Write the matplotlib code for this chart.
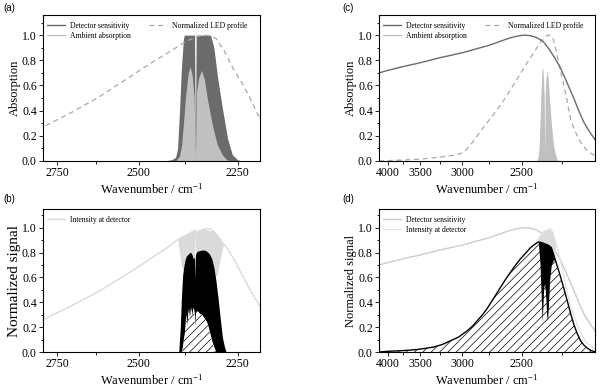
import numpy as np
import matplotlib
matplotlib.use('Agg')
import matplotlib.pyplot as plt
from matplotlib.lines import Line2D
from matplotlib.ticker import FixedLocator, MultipleLocator, NullFormatter

plt.rcParams['font.family'] = ['Liberation Serif', 'DejaVu Serif']
plt.rcParams['mathtext.default'] = 'regular'
plt.rcParams['hatch.linewidth'] = 0.5

# LED emission profile (wavenumber cm-1, normalised)
led_nu = [4170, 4000, 3750, 3500, 3250, 3100, 3050, 3000, 2975, 2950, 2900, 2850, 2800,
          2700, 2615, 2540, 2470, 2420, 2373, 2345, 2325, 2310, 2299, 2280, 2261, 2240,
          2222, 2205, 2200, 2180, 2164, 2140, 2112, 2075]
led = [0.0, 0.003, 0.008, 0.015, 0.03, 0.045, 0.052, 0.065, 0.08, 0.1, 0.15, 0.21, 0.27,
       0.39, 0.51, 0.64, 0.77, 0.86, 0.95, 0.99, 1.0, 0.99, 0.97, 0.87, 0.74, 0.62,
       0.50, 0.37, 0.33, 0.25, 0.2, 0.13, 0.08, 0.04]

# detector sensitivity
det_nu = [4170, 4000, 3750, 3500, 3250, 3000, 2850, 2750, 2650, 2580, 2520, 2480, 2440,
          2400, 2360, 2324, 2290, 2260, 2237, 2210, 2183, 2157, 2131, 2105, 2075]
det = [0.70, 0.72, 0.75, 0.78, 0.82, 0.86, 0.895, 0.92, 0.955, 0.98, 0.995, 1.0, 0.995,
       0.98, 0.95, 0.89, 0.82, 0.75, 0.68, 0.59, 0.50, 0.40, 0.31, 0.24, 0.17]

# CO2 band envelope, high concentration (dark) and ambient (light)
dark_nu = [2430, 2410, 2400, 2395, 2390, 2385, 2380, 2378, 2352, 2350, 2348, 2313, 2305,
           2297, 2285, 2273, 2262, 2250, 2240]
dark = [0.0, 0.01, 0.03, 0.1, 0.4, 0.75, 0.97, 1.0, 1.0, 0.04, 1.0, 1.0, 0.9,
        0.68, 0.42, 0.18, 0.05, 0.01, 0.0]

amb_nu = [2400, 2390, 2385, 2380, 2375, 2368, 2363, 2358, 2353, 2350, 2347, 2342, 2335,
          2328, 2321, 2309, 2297, 2285, 2275, 2265]
amb = [0.0, 0.04, 0.12, 0.3, 0.5, 0.7, 0.75, 0.68, 0.5, 0.04, 0.55, 0.66, 0.72,
       0.65, 0.5, 0.29, 0.13, 0.05, 0.01, 0.0]

weak_nu = [3880, 3850, 3820, 3790, 3760]
weak = [0.0, 0.015, 0.005, 0.012, 0.0]

# intensity at detector
int_nu = [4170, 3800, 3500, 3200, 3000, 2900, 2800, 2720, 2615, 2514, 2422, 2392,
          2383, 2379, 2375, 2362, 2355, 2351, 2347, 2340, 2328, 2313, 2305, 2297,
          2285, 2277, 2257, 2222, 2200, 2160, 2120, 2075]
inten = [0.0, 0.005, 0.01, 0.03, 0.06, 0.12, 0.26, 0.35, 0.49, 0.66, 0.84, 0.91,
         0.925, 0.93, 0.935, 0.96, 0.975, 0.98, 0.96, 0.975, 0.99, 0.99, 0.97, 0.94,
         0.88, 0.85, 0.74, 0.50, 0.37, 0.2, 0.08, 0.02]

# light grey band of transmitted lines
gb_nu = [2395, 2390, 2386, 2380, 2370, 2353, 2351, 2349, 2330, 2305, 2297, 2290, 2283, 2280]
gb_top = [0.91, 0.92, 0.925, 0.935, 0.95, 0.975, 0.98, 0.965, 0.99, 0.97, 0.94, 0.9, 0.87, 0.865]
gb_low = [0.91, 0.8, 0.7, 0.65, 0.6, 0.6, 0.98, 0.6, 0.6, 0.6, 0.62, 0.75, 0.86, 0.865]

# (b) signal in band: black top and lower (hatched) envelope
b_nu = [2392, 2388, 2385, 2382, 2379, 2376, 2373, 2370, 2367, 2364, 2361, 2358, 2355,
        2352, 2351, 2350, 2348, 2345, 2340, 2334, 2328, 2322, 2316, 2310, 2305, 2300,
        2295, 2290, 2285, 2280, 2276]
b_top = [0.0, 0.2, 0.45, 0.62, 0.69, 0.74, 0.77, 0.78, 0.79, 0.80, 0.80, 0.78, 0.75,
         0.76, 0.58, 0.78, 0.80, 0.81, 0.815, 0.82, 0.82, 0.81, 0.79, 0.75, 0.68, 0.57,
         0.43, 0.27, 0.12, 0.04, 0.0]
b_low = [0.0, 0.0, 0.0, 0.03, 0.10, 0.16, 0.30, 0.20, 0.35, 0.25, 0.36, 0.28, 0.36,
         0.30, 0.19, 0.22, 0.32, 0.33, 0.31, 0.30, 0.27, 0.24, 0.17, 0.09, 0.04, 0.0,
         0.0, 0.0, 0.0, 0.0, 0.0]

# (d) integrated signal outline and band
sig_nu = [4170, 4000, 3800, 3650, 3541, 3420, 3322, 3220, 3127, 3040, 2954, 2900, 2859,
          2810, 2770, 2710, 2660, 2610, 2558, 2510, 2463, 2440, 2420, 2390, 2370, 2350,
          2330, 2310, 2300, 2284, 2270, 2255, 2237, 2218, 2200, 2182, 2165, 2147, 2130,
          2112, 2095, 2080, 2075]
sig = [0.0, 0.006, 0.01, 0.015, 0.02, 0.03, 0.04, 0.06, 0.09, 0.12, 0.17, 0.21, 0.25,
       0.30, 0.35, 0.44, 0.52, 0.60, 0.68, 0.75, 0.81, 0.84, 0.86, 0.885, 0.88, 0.87,
       0.86, 0.84, 0.80, 0.73, 0.67, 0.60, 0.51, 0.41, 0.31, 0.22, 0.15, 0.09, 0.055,
       0.03, 0.012, 0.005, 0.0]
d_nu = [2390, 2380, 2372, 2366, 2362, 2356, 2350, 2344, 2338, 2333, 2328, 2320, 2310,
        2298, 2288, 2280]
d_top = [0.885, 0.88, 0.88, 0.88, 0.88, 0.875, 0.87, 0.87, 0.865, 0.86, 0.855, 0.85,
         0.84, 0.79, 0.75, 0.72]
d_low = [0.88, 0.72, 0.45, 0.24, 0.35, 0.52, 0.55, 0.45, 0.3, 0.25, 0.35, 0.58, 0.7,
         0.74, 0.74, 0.72]

DARK = '#6b6b6b'
LIGHT = '#c0c0c0'
LEDC = '#a8a8a8'
INTC = '#dadada'


def to_um(x):
    # axis is linear in wavelength; minus sign keeps the mapping increasing
    x = np.asarray(x, dtype=float)
    with np.errstate(divide='ignore', invalid='ignore'):
        return -1e4 / x


def style(ax, xlim, ylim, major, minor, ylabel, ylsize):
    ax.set_xscale('function', functions=(to_um, to_um))
    ax.set_xlim(*xlim)
    ax.set_ylim(*ylim)
    ax.xaxis.set_major_locator(FixedLocator(major))
    ax.xaxis.set_minor_locator(FixedLocator(minor))
    ax.xaxis.set_minor_formatter(NullFormatter())
    ax.yaxis.set_major_locator(MultipleLocator(0.2))
    ax.yaxis.set_minor_locator(MultipleLocator(0.1))
    ax.yaxis.set_major_formatter(plt.FormatStrFormatter('%.1f'))
    ax.tick_params(which='both', direction='out', width=0.6, labelsize=8.5, pad=1.5)
    ax.tick_params(which='major', length=3)
    ax.tick_params(which='minor', length=1.8)
    for s in ax.spines.values():
        s.set_linewidth(0.8)
    ax.set_xlabel('Wavenumber / cm$^{-1}$', fontsize=9, labelpad=2)
    ax.set_ylabel(ylabel, fontsize=ylsize, labelpad=1)


fig = plt.figure(figsize=(6, 3.9), dpi=100)
ax_a = fig.add_axes([0.0717, 0.5872, 0.3617, 0.3744])
ax_b = fig.add_axes([0.0717, 0.0974, 0.3617, 0.3667])
ax_c = fig.add_axes([0.6317, 0.5872, 0.36, 0.3744])
ax_d = fig.add_axes([0.6317, 0.0974, 0.36, 0.3667])

leg_kw = dict(loc='upper left', bbox_to_anchor=(0.0, 0.98), frameon=False, fontsize=5.5,
              handlelength=2.4, handletextpad=0.6, columnspacing=2.4, labelspacing=0.3,
              borderpad=0.2, borderaxespad=0.3)
h_det = Line2D([], [], color=DARK, lw=1)
h_amb = Line2D([], [], color=LIGHT, lw=1)
h_led = Line2D([], [], color=LEDC, lw=0.9, ls=(0, (4, 3)))
labels_ac = ['Detector sensitivity', 'Ambient absorption', 'Normalized LED profile']

# (a)
ax_a.fill_between(dark_nu, 0, dark, color=DARK, lw=0)
ax_a.fill_between(amb_nu, 0, amb, color=LIGHT, lw=0)
ax_a.plot(led_nu, led, color=LEDC, lw=0.9, ls=(0, (4, 3)))
style(ax_a, (2800, 2200), (0, 1.16), [2750, 2500, 2250], [2625, 2375], 'Absorption', 9)
ax_a.legend([h_det, h_amb, h_led], labels_ac, ncol=2, **leg_kw)

# (b)
ax_b.plot(int_nu, inten, color=INTC, lw=1)
ax_b.fill_between(gb_nu, gb_low, gb_top, color=INTC, lw=0)
ax_b.fill_between(b_nu, b_low, b_top, color='black', lw=0)
ax_b.fill_between(b_nu, 0, b_low, facecolor='white', edgecolor='black', hatch='////', lw=0)
style(ax_b, (2800, 2200), (0, 1.15), [2750, 2500, 2250], [2625, 2375], 'Normalized signal', 11)
ax_b.legend([Line2D([], [], color=INTC, lw=1)], ['Intensity at detector'], **leg_kw)

# (c)
ax_c.fill_between(amb_nu, 0, amb, color=LIGHT, lw=0)
ax_c.fill_between(weak_nu, 0, weak, color=LIGHT, lw=0)
ax_c.plot(led_nu, led, color=LEDC, lw=0.9, ls=(0, (4, 3)))
ax_c.plot(det_nu, det, color=DARK, lw=1)
style(ax_c, (4170, 2075), (0, 1.16), [4000, 3500, 3000, 2500], [3750, 3250, 2750, 2250],
      'Absorption', 9)
ax_c.legend([h_det, h_amb, h_led], labels_ac, ncol=2, **leg_kw)

# (d)
ax_d.plot(det_nu, det, color='#cccccc', lw=1, zorder=1)
ax_d.plot(int_nu, inten, color='#e4e4e4', lw=1, zorder=1)
ax_d.fill_between(gb_nu, gb_low, gb_top, color='#dcdcdc', lw=0, zorder=1)
ax_d.fill_between(sig_nu, 0, sig, facecolor='white', edgecolor='black', hatch='////',
                  lw=0, zorder=2)
ax_d.fill_between(d_nu, d_low, d_top, color='black', lw=0, zorder=3)
ax_d.plot(sig_nu, sig, color='black', lw=1, zorder=4)
style(ax_d, (4170, 2075), (0, 1.15), [4000, 3500, 3000, 2500], [3750, 3250, 2750, 2250],
      'Normalized signal', 9)
ax_d.legend([Line2D([], [], color='#cccccc', lw=1), Line2D([], [], color='#e4e4e4', lw=1)],
            ['Detector sensitivity', 'Intensity at detector'], **leg_kw)

for txt, x, y in [('(a)', 0.005, 0.98), ('(b)', 0.005, 0.49), ('(c)', 0.57, 0.98), ('(d)', 0.57, 0.49)]:
    fig.text(x, y, txt, fontsize=7, family='Liberation Sans', va='center')

fig.savefig('out.png', dpi=100)
